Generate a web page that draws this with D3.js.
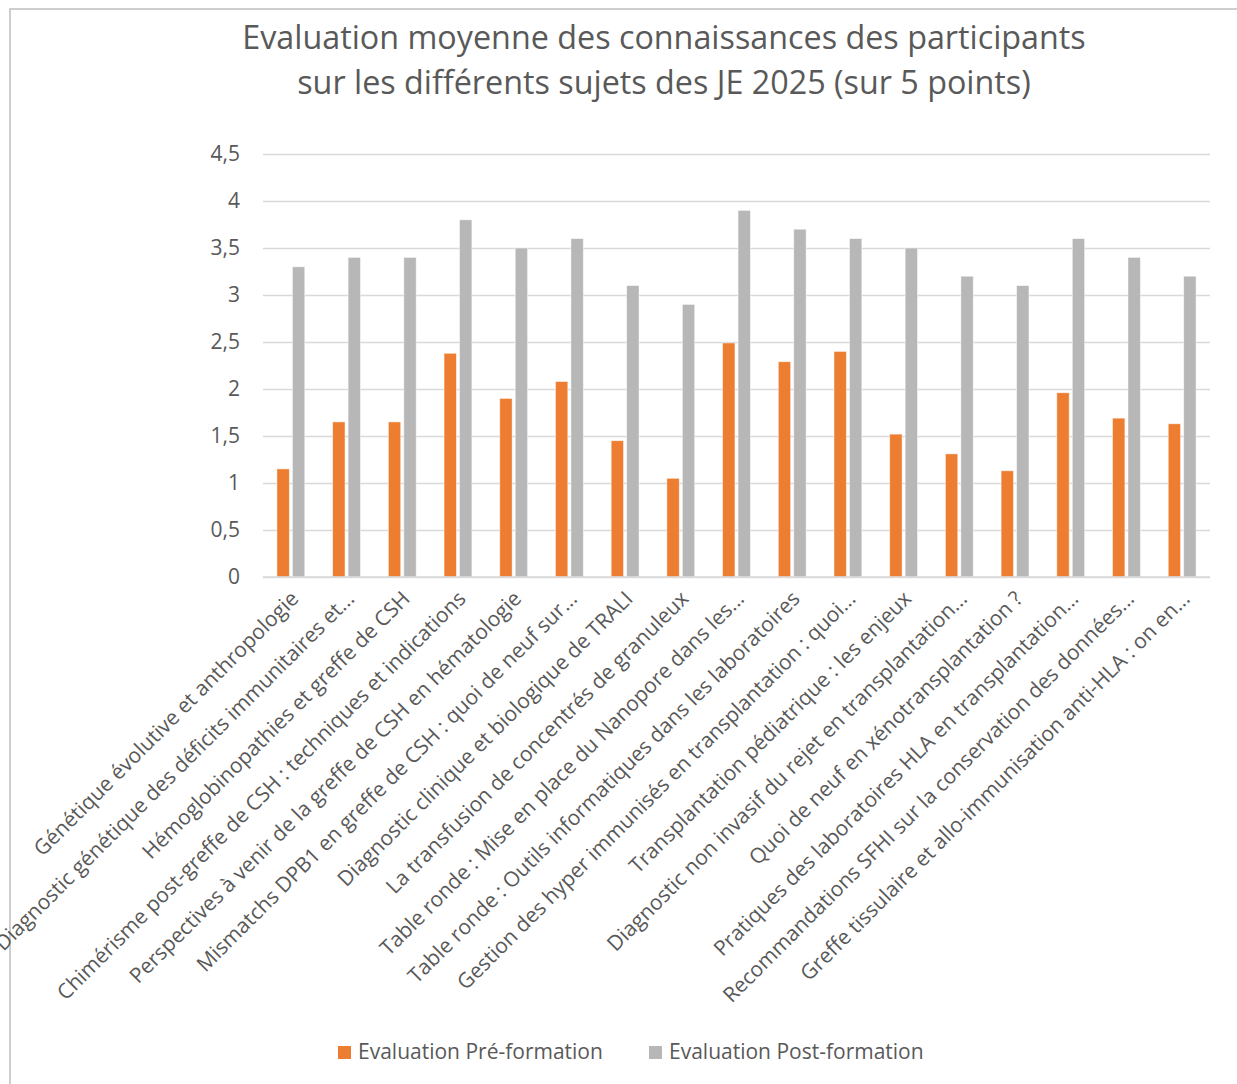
<!DOCTYPE html>
<html><head><meta charset="utf-8">
<script src="https://cdn.jsdelivr.net/npm/d3@7"></script>
<style>body{margin:0;background:#fff;} text{font-family:"Open Sans",sans-serif;fill:#595959;}</style>
</head><body><svg id="c" width="1237" height="1084"></svg>
<script>
const categories = [
"Génétique évolutive et anthropologie",
"Diagnostic génétique des déficits immunitaires et...",
"Hémoglobinopathies et greffe de CSH",
"Chimérisme post-greffe de CSH : techniques et indications",
"Perspectives à venir de la greffe de CSH en hématologie",
"Mismatchs DPB1 en greffe de CSH : quoi de neuf sur...",
"Diagnostic clinique et biologique de TRALI",
"La transfusion de concentrés de granuleux",
"Table ronde : Mise en place du Nanopore dans les...",
"Table ronde : Outils informatiques dans les laboratoires",
"Gestion des hyper immunisés en transplantation : quoi...",
"Transplantation pédiatrique : les enjeux",
"Diagnostic non invasif du rejet en transplantation...",
"Quoi de neuf en xénotransplantation ?",
"Pratiques des laboratoires HLA en transplantation...",
"Recommandations SFHI sur la conservation des données...",
"Greffe tissulaire et allo-immunisation anti-HLA : on en..."
];
const preFormation = [1.15,1.65,1.65,2.38,1.90,2.08,1.45,1.05,2.49,2.29,2.40,1.52,1.31,1.13,1.96,1.69,1.63];
const postFormation = [3.3,3.4,3.4,3.8,3.5,3.6,3.1,2.9,3.9,3.7,3.6,3.5,3.2,3.1,3.6,3.4,3.2];
const seriesNames = ["Evaluation Pré-formation","Evaluation Post-formation"];
const yTicks = [0,0.5,1,1.5,2,2.5,3,3.5,4,4.5];
const titleLines = ["Evaluation moyenne des connaissances des participants","sur les différents sujets des JE 2025 (sur 5 points)"];

const colors = ["#ED7D31","#B7B7B7"];
const svg = d3.select("#c");
const L=263, R=1210, T=154, B=577;

svg.append("rect").attr("x",10).attr("y",9).attr("width",1240).attr("height",1100)
  .attr("fill","none").attr("stroke","#bfbfbf").attr("stroke-width",1.5);

svg.selectAll("text.title").data(titleLines).join("text").attr("class","title")
  .attr("x",664).attr("y",(d,i)=>49+i*45).attr("text-anchor","middle")
  .style("font-size","32.3px").text(d=>d);

const y = d3.scaleLinear().domain([0,4.5]).range([B,T]);
const x0 = d3.scaleBand().domain(categories).range([L,R]).paddingInner(0.5).paddingOuter(0.25);
const x1 = d3.scaleBand().domain([0,1]).range([0,x0.bandwidth()]).paddingInner(0.2);

// grid
const yAxis = d3.axisLeft(y).tickValues(yTicks).tickSize(-(R-L)).tickFormat(d=>String(d).replace(".",","));
const ga = svg.append("g").attr("transform",`translate(${L},0)`).call(yAxis);
ga.select(".domain").remove();
ga.selectAll(".tick line").attr("stroke","#d9d9d9").attr("stroke-width",1.5);
ga.selectAll(".tick text").attr("x",-23).style("font-size","21px").attr("fill","#595959");

const data = categories.map((c,i)=>({c, v:[preFormation[i],postFormation[i]]}));
const g = svg.append("g");
g.selectAll("g.cat").data(data).join("g").attr("class","cat")
  .attr("transform",d=>`translate(${x0(d.c)},0)`)
  .selectAll("rect").data(d=>d.v.map((v,k)=>({v,k}))).join("rect")
  .attr("x",d=>x1(d.k)).attr("width",x1.bandwidth())
  .attr("y",d=>y(d.v)).attr("height",d=>y(0)-y(d.v))
  .attr("fill",d=>colors[d.k]).attr("stroke","#fff").attr("stroke-width",0.8).attr("stroke-opacity",0.6);

// baseline
svg.append("line").attr("x1",L).attr("x2",R).attr("y1",y(0)).attr("y2",y(0)).attr("stroke","#d9d9d9").attr("stroke-width",1.5);

// category labels
const xAxis = d3.axisBottom(x0).tickSize(0).tickPadding(0);
const gx = svg.append("g").attr("transform",`translate(0,${B})`).call(xAxis);
gx.select(".domain").remove();
gx.selectAll(".tick text").attr("text-anchor","end").attr("y",0).attr("x",0).attr("dy","0")
  .attr("transform","translate(9,23) rotate(-45)").style("font-size","21px").attr("fill","#595959");

// legend
const lx=[338,649];
const lg = svg.selectAll("g.leg").data(seriesNames).join("g").attr("class","leg")
  .attr("transform",(d,i)=>`translate(${lx[i]},1046)`);
lg.append("rect").attr("width",13).attr("height",13).attr("fill",(d,i)=>colors[i]);
lg.append("text").attr("x",20).attr("y",13).style("font-size","21px").text(d=>d);
</script></body></html>
